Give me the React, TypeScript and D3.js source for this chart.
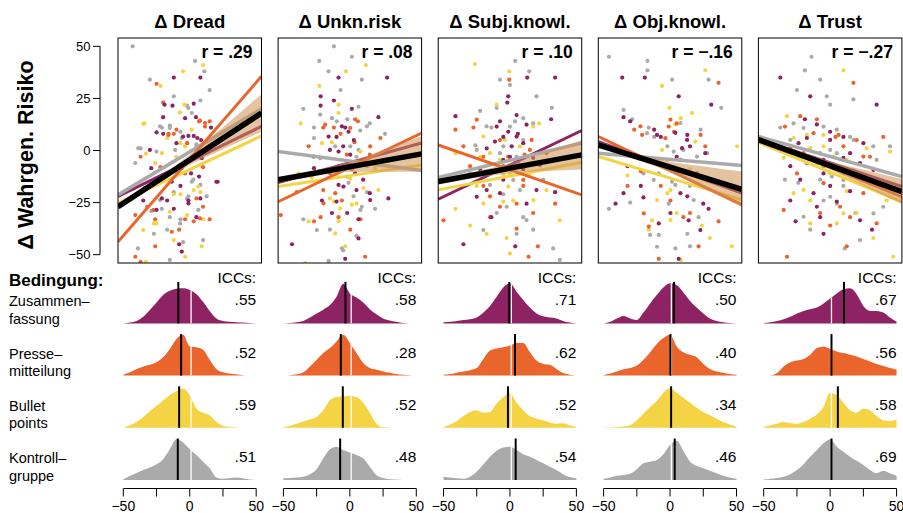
import React from 'react';
import * as d3 from 'd3';

// ---------- DATA ----------
const columnTitles = ['Δ Dread', 'Δ Unkn.risk', 'Δ Subj.knowl.', 'Δ Obj.knowl.', 'Δ Trust'];
const rLabels = ['r = .29', 'r = .08', 'r = .10', 'r = −.16', 'r = −.27'];
const groupLabelLines = [['Zusammen–', 'fassung'], ['Presse–', 'mitteilung'], ['Bullet', 'points'], ['Kontroll–', 'gruppe']];
const groupColors = ['#8e2363', '#e9652c', '#f4d444', '#aaaaaa'];
const yTicks = [50, 25, 0, -25, -50];
const xTicks = [-50, -25, 0, 25, 50];
const xTickLabels = [-50, 0, 50];

// ICCs per column, groups: purple, orange, yellow, grey
const iccDread = ['.55', '.52', '.59', '.51'];
const iccUnkn = ['.58', '.28', '.52', '.48'];
const iccSubj = ['.71', '.62', '.52', '.54'];
const iccObj = ['.50', '.40', '.34', '.46'];
const iccTrust = ['.67', '.56', '.58', '.69'];

// group medians (black lines) and reference (white line)
const medDread = [-8.6, -6.5, -8, -9];
const medUnkn = [-3.3, -6.8, -5.3, -7.3];
const medSubj = [-0.5, 3.8, -1.5, 4.3];
const medObj = [3, 0.3, 0.8, 3.5];
const medTrust = [10.4, 1, 5.8, 1];
const whiteRef = 1;

// density grid
const densX = [-50, -45, -40, -35, -30, -25, -20, -15, -10, -5, 0, 5, 10, 15, 20, 25, 30, 35, 40, 45, 50];
const densDread = [
  [0, 0.02, 0.06, 0.16, 0.32, 0.5, 0.68, 0.78, 0.83, 0.84, 0.8, 0.7, 0.52, 0.3, 0.12, 0.06, 0.04, 0.03, 0.02, 0.01, 0],
  [0.02, 0.08, 0.16, 0.22, 0.26, 0.32, 0.44, 0.64, 0.88, 0.98, 0.7, 0.68, 0.62, 0.38, 0.16, 0.08, 0.05, 0.03, 0.01, 0, 0],
  [0, 0.06, 0.14, 0.26, 0.4, 0.52, 0.66, 0.78, 0.88, 0.94, 0.78, 0.46, 0.36, 0.3, 0.14, 0.05, 0.02, 0.01, 0, 0, 0],
  [0.02, 0.1, 0.17, 0.24, 0.3, 0.38, 0.5, 0.74, 0.98, 0.9, 0.74, 0.6, 0.44, 0.28, 0.06, 0.03, 0.04, 0.06, 0.04, 0.01, 0],
];
const densUnkn = [
  [0, 0.01, 0.03, 0.06, 0.14, 0.24, 0.33, 0.44, 0.64, 0.95, 0.72, 0.62, 0.5, 0.34, 0.22, 0.12, 0.07, 0.04, 0.01, 0, 0],
  [0, 0.01, 0.03, 0.08, 0.22, 0.38, 0.54, 0.66, 0.82, 0.98, 0.78, 0.54, 0.3, 0.18, 0.14, 0.1, 0.07, 0.04, 0.02, 0.01, 0],
  [0.02, 0.05, 0.1, 0.15, 0.2, 0.26, 0.42, 0.66, 0.74, 0.75, 0.76, 0.74, 0.6, 0.36, 0.1, 0.02, 0.01, 0, 0, 0, 0],
  [0.04, 0.05, 0.06, 0.08, 0.14, 0.26, 0.52, 0.74, 0.8, 0.72, 0.66, 0.6, 0.52, 0.32, 0.12, 0.05, 0.02, 0.01, 0, 0, 0],
];
const densSubj = [
  [0.03, 0.04, 0.06, 0.08, 0.1, 0.14, 0.26, 0.42, 0.64, 0.86, 0.96, 0.76, 0.56, 0.38, 0.24, 0.17, 0.14, 0.12, 0.06, 0.02, 0],
  [0.02, 0.04, 0.07, 0.1, 0.13, 0.18, 0.4, 0.6, 0.65, 0.68, 0.72, 0.78, 0.78, 0.56, 0.36, 0.28, 0.26, 0.16, 0.06, 0.02, 0],
  [0.02, 0.08, 0.16, 0.28, 0.38, 0.42, 0.36, 0.38, 0.58, 0.74, 0.83, 0.6, 0.42, 0.28, 0.22, 0.18, 0.13, 0.1, 0.11, 0.06, 0.02],
  [0.08, 0.06, 0.04, 0.03, 0.08, 0.2, 0.38, 0.56, 0.7, 0.78, 0.8, 0.72, 0.62, 0.56, 0.48, 0.4, 0.32, 0.24, 0.14, 0.07, 0.04],
];
const densObj = [
  [0, 0.04, 0.12, 0.18, 0.12, 0.08, 0.26, 0.48, 0.68, 0.86, 0.96, 0.92, 0.74, 0.54, 0.38, 0.24, 0.12, 0.06, 0.03, 0.01, 0],
  [0.01, 0.05, 0.1, 0.15, 0.18, 0.24, 0.38, 0.56, 0.76, 0.9, 0.98, 0.7, 0.56, 0.5, 0.44, 0.28, 0.16, 0.1, 0.07, 0.04, 0.02],
  [0.01, 0.01, 0.02, 0.03, 0.06, 0.18, 0.34, 0.5, 0.64, 0.84, 0.95, 0.84, 0.72, 0.6, 0.48, 0.38, 0.3, 0.22, 0.14, 0.08, 0.03],
  [0.03, 0.06, 0.1, 0.12, 0.15, 0.26, 0.4, 0.44, 0.48, 0.62, 0.84, 0.94, 0.7, 0.44, 0.34, 0.28, 0.22, 0.16, 0.1, 0.06, 0.03],
];
const densTrust = [
  [0.01, 0.03, 0.06, 0.1, 0.16, 0.24, 0.3, 0.34, 0.38, 0.48, 0.6, 0.72, 0.82, 0.84, 0.7, 0.42, 0.3, 0.3, 0.26, 0.14, 0.04],
  [0, 0, 0.06, 0.22, 0.32, 0.36, 0.4, 0.5, 0.66, 0.7, 0.64, 0.58, 0.54, 0.5, 0.46, 0.4, 0.34, 0.28, 0.23, 0.18, 0.14],
  [0.02, 0.06, 0.1, 0.14, 0.11, 0.1, 0.14, 0.22, 0.32, 0.5, 0.84, 0.78, 0.6, 0.42, 0.36, 0.46, 0.42, 0.28, 0.18, 0.16, 0.2],
  [0.01, 0.03, 0.05, 0.08, 0.14, 0.24, 0.38, 0.56, 0.72, 0.88, 0.98, 0.8, 0.68, 0.56, 0.46, 0.36, 0.24, 0.16, 0.22, 0.16, 0.1],
];

// regression line values at x = -54 and x = 54: purple, orange, yellow, grey, overall
const lineEnds = [-54, 54];
const regDread = [[-22, 11.6], [-43.8, 35.6], [-25.3, 7], [-21.3, 20], [-27, 18]];
const regUnkn = [[-15.4, 3.6], [-24.6, 8.4], [-17.3, -6.9], [-0.5, -9.6], [-14.1, -1.6]];
const regSubj = [[-23.4, 9.6], [2.7, -21.3], [-18.9, -5.6], [-13, 3.6], [-14.9, -2.1]];
const regObj = [[4.3, -20.5], [6.7, -26], [-2.9, -23.6], [-1.3, -7.2], [2.7, -18.6]];
const regTrust = [[5.5, -17.3], [6, -22.2], [3.9, -24.6], [6.7, -12.5], [5.2, -19.7]];

// confidence band half widths around the overall line
const bandX = [-54, -27, 0, 27, 54];
const bandDread = [1.5, 1.5, 2.5, 5.5, 9];
const bandUnkn = [1.5, 1.5, 2.5, 5.5, 8.5];
const bandSubj = [1.5, 1.5, 2.5, 4.5, 7];
const bandObj = [1.5, 1.5, 2.5, 5.5, 8.5];
const bandTrust = [1.5, 1.5, 2, 4, 6];

// scatter points [x, y] per group: purple, orange, yellow, grey
const ptsDread = [
  [[-12,35],[8,35],[-19,22],[-13,21.5],[3,22.5],[-20,8],[-3.5,15.5],[-1,7],[-10,3.5],[8.5,5],[16,11],[-29,-8.5],[-13.5,-15],[-7,-17],[1,-11],[7,-12.5],[-17,-24],[-1,-24],[8,-23],[-12,-28],[-25,-28.5],[21,-15],[-21,-23],[5,-32],[-8,-45],[-6,-48.5],[3,7],[5,-2],[-35,-24],
   [-20,16],[4.7,16],[-25,8.7],[-5,6.7],[5.7,6],[-30,0.3],[9,-3.7],[20,-15],[-1,-25.4]],
  [[-25,32],[-20,23],[-16,8],[-12,8],[7,14],[11.5,11.5],[15,14],[-37,-3],[-34,-18],[-22,-8],[-6,-8.5],[10,-8],[-41,-31],[-32,-27],[-26,-33],[-13.5,-39],[-3.5,-33],[-8,-38],[3,-34],[15,-33],[-26,-46],[-41,-51],[-37,-53.5],[5,-23],[10,-27],
   [7.7,14.4],[11.5,13.2],[-10,10],[-16,7.5],[-2,3.5],[-3.6,-11],[-27.4,-28.6],[7.7,-32.6]],
  [[10,41],[-5,38],[-22,31],[-4,22],[-34,13],[-17,6],[-7,3.5],[-33,-1.5],[-26,-6],[-10,-3],[-3.5,2],[8,-7],[-20,-14],[3,-19],[-27,-35],[-12,-21],[-7,-21],[8,-20],[-2,-31],[10,-33],[-12,-43],[9,-46],[-33,-53.5],[-25,-35],[-3.5,-51],
   [-7.3,18.3],[1.4,10],[-35,12.8],[-21,-1.3],[-10,-9.3],[-17.4,-11],[6.4,-17.3],[-15,-29.4],[-35,-38.2]],
  [[-43,50],[-30,34],[4,43],[11,38],[15,29],[-12,26],[-15,12],[-21,11],[-7,9],[-37,1],[-41,-6],[-25,-0.5],[-6,6],[-2,3.5],[5,3],[8,24],[-2,21.5],[1.5,18],[-17,-11],[1.5,-15],[8,-16.5],[-12,-20],[-1,-22],[-21,-28],[-29,-29],[-15,-32],[-7,-33],[6.5,-28.5],[10,-43],[-17,-38],[-27,-40],[-39,-47],[-15,-52.5],[-2,-23],[-5,-44],
   [-1,20.4],[-15,10.8],[-22.4,11.6],[5.2,2],[-11,0.3],[-38.7,1.1],[2.7,-14],[12.7,-22],[-22.4,-23.8],[-7.3,-35]],
];
const ptsUnkn = [
  [[-8.5,35],[28,35],[-22,26],[-12,24],[1.5,20],[-22,21.5],[21.5,16],[-3.5,11],[-1,9],[-10,6.5],[3,5],[-5,2],[-15,0.3],[0.3,-2],[-27,-8.5],[10,-14],[-8.5,-16.5],[5,-19],[-21,-24],[-10,-24.5],[29,-23],[-2,-30],[-13.5,-30],[6.5,-33],[-43.5,-45],[-3.5,-52],[15,-20.5],
   [-6,11.6],[-16,6.7],[-8.5,-0.5],[-27.3,-2.9],[4,-11],[-4.8,-17.3],[15.3,-23.8],[6.5,-42.2]],
  [[4,15],[6,14],[-20,11],[-12,11],[-7,8],[3.5,4],[23,6],[-31,2],[-8.5,-7.5],[1.5,-9],[15,-2],[-20,-19],[-11,-20.5],[-6,-24],[-22,-32],[-8.5,-32],[-27,-34],[8,-33],[0.3,-38],[11.5,-51],[-52,-31],[-40,-20],
   [-18.6,12.4],[0.3,10.8],[-2.3,-2],[15.3,2],[10.3,-6.1],[-14.8,-11],[-19.8,-25.4]],
  [[-3,38],[12,41],[-23,31],[-8.5,22],[-37,13],[-8.5,18],[-13.5,4],[8,-0.5],[23,-6],[-28.5,-13],[-10,-11.5],[0.3,-13.5],[-15,-23],[-12,-24.5],[5,-25.5],[21.5,-19],[-31,-34],[-8.5,-34],[1.5,-26],[-3.5,-46],[-33.5,-54],[-38.5,-11],
   [-21,3.5],[19,-8.5],[10.3,-18],[-7.3,-27.8],[-11,-39.8]],
  [[-12,50],[-23,43],[-16,38],[-7,29],[9,34],[-35,20],[-27,11],[-13.5,15.5],[-2,15],[6.5,21],[15,13],[26.5,8],[-27,6],[-11,2],[5,-3],[13,-7.5],[-2,-12.5],[-1,-15.5],[13,-20],[9,-27],[8,-28.5],[19,-28],[-35,-33],[-15,-38],[5,-41],[-6,-47],[-5,-48],[-16,-53],[1.5,45],[0.3,2],
   [-22.3,17.2],[-9.8,14],[7.8,9.6],[12.8,11.6],[6.5,0.3],[-22.3,-3.7],[2.8,-22],[-24.8,-38.2]],
];
const ptsSubj = [
  [[13,35],[34,35],[-1.3,26],[-41,16.5],[-2,23],[5,17],[-10,11.5],[-1.3,9],[6,8],[10,3.5],[-5,6.5],[1.3,2],[31,15],[-17.5,1],[17.5,-3.5],[0,-3],[-22.5,-9],[10,-9],[-5,-14],[-17.5,-19],[-7.5,-20.5],[20,-19],[12.5,-25.5],[-35,-45],[4,-46],[34,-20],[-14,-32],
   [-7.5,14],[12.5,12.4],[-11.3,4.3],[5,6.7],[-5,-4.5],[22.6,-6.9],[-25,-22.2]],
  [[-0.5,34],[-41,10],[-35,2],[-27.5,11],[-7.5,5],[-1.3,-3],[15,0.3],[-30,-7.5],[-20,-3],[11,-2],[-5,-7.5],[27.5,-1.3],[-20,-17],[-15,-22],[5,-25.5],[17.5,-30],[-50,-33.5],[-15,-32],[5,-37.5],[14,-51],[21,-46],[34,-25.5],[10,-17],
   [-25,14.8],[16.3,5.1],[-10,-10.1],[10,-14.1],[-7.5,-27]],
  [[-26.5,41.5],[-0.5,38],[-10,22],[22,13],[-22.5,-3],[-41,-1.3],[7.5,2],[17.5,11.5],[0,-11],[-5,-11.5],[-25,-17],[-20,-25.5],[-5,-24.5],[2.5,-24],[27.5,-19],[-30,-36],[-17.5,-40],[-2.5,-42],[37.5,-33.5],[-41,-28],[15,-11],[-7.5,-4.5],
   [-20,6.7],[-3.8,5.1],[-15,-1.3],[12.5,-6.9],[-1.3,-17.3],[17.6,-23.8],[0,-49.4]],
  [[4,43],[-7.5,34],[0,31.5],[14.5,38],[20,26],[-22.5,19],[-10,20.5],[10,15.5],[17.5,13],[31.5,20.5],[-14,11],[0,11.5],[-5,2],[10,5],[-26,2.5],[-7.5,-1.3],[5,-3],[-15,-16.5],[-5,-21],[7.5,-19],[25,-14],[-10,-30],[-2.5,-27],[10,-32],[32.5,-47],[37.5,-52.5],[5,-40],[17.5,-38],[-30,-11],
   [-17.6,11.6],[3.8,14],[-25,0.3],[6.3,-6.1],[2.5,-14.1],[12.5,-33.4],[-20,-38.2]],
];
const ptsObj = [
  [[-36,35],[-19,35],[6.5,26],[31,22],[-35,16],[-30,14],[-12,10],[-7,6.5],[4,8.5],[13,7.5],[15,2],[26.5,-1.3],[-32,-7.5],[5,-3],[-22,-17],[-35,-20.5],[-41,-25.5],[-20,-22.5],[13,-22],[29,-28],[0.3,-30],[14,-33.5],[25,-25.5],[6.5,-52],[-8.5,-35],
   [-9.8,7.5],[12.8,5.1],[9,1.1],[-14.8,-4.5],[7.8,-20.5],[22.8,-38.2]],
  [[36.5,32.5],[5,13],[-27,10],[-21,7.5],[-1,11.5],[3,9],[23,7.5],[26.5,2],[-22,-10],[8,-4.5],[-7,-17],[10,-32],[15,-30],[21.5,-46],[-8.5,-52],[36.5,-34],[0.3,-24],[-32,-17],[-16,-36.5],
   [-22.3,11.6],[-3.5,5.9],[0.3,14.8],[-2.3,-7.7],[20.3,-10.9],[-19.8,-30.2]],
  [[26.5,38.5],[-6,31],[-0.5,20.5],[16.5,18],[8,15.5],[4,12.5],[-32,-12],[-2,-4.5],[11.5,-11],[15,-9],[25,-12.5],[0.3,-19],[5,-30],[-13.5,-33.5],[-16,-38],[24,-36],[30,-42],[46.5,-46],[50.5,2],[-2,-20.5],[8,-52.5],
   [19,4.3],[-6,0.3],[-9.8,-23.8],[0.3,-33.4]],
  [[-46,45],[-17,43],[-17,38.5],[1.5,34],[29,34],[-35,19.5],[-28.5,15],[-16,11],[-12,6.5],[-2,2],[10,0.3],[23,10],[28,-1.3],[38.5,20.5],[-20,-11],[-8.5,-11],[1.5,-15],[4,-16.5],[15,-17],[-30,-25],[-46,-28],[-15,-40.5],[-8.5,-40.5],[4,-47],[15,-46],[21.5,-32],[13,-40],[-1,-25.5],
   [-17.3,8.3],[7.8,13.2],[2.8,-0.5],[20.3,-2.9],[-26,-2],[5.3,-9.3],[-12.3,-14.1],[17.8,-23.8],[-9.8,-46.2]],
];
const ptsTrust = [
  [[-37.5,35],[-15,26],[35,22],[-19,15],[-10,12.5],[0,9],[10,6.5],[-17.5,6],[25,3.5],[-30,-7.5],[-5,-4.5],[10,-3.5],[22.5,-6],[-5,-11],[-22.5,-14],[-12.5,-20.5],[0,-17],[15,-19.5],[-30,-24],[-7.5,-32],[22.5,-33.5],[31.5,-38],[-5,-40],[-26,-34],[5,-24.5],
   [0,5.1],[-23.8,3.5],[15,-1.3],[32.6,-9.3],[-10,-27]],
  [[17.5,32.5],[-22.5,16.5],[-10,15],[-34,11.5],[4,6.5],[20,5],[40,6.5],[-20,-1.3],[-30,1],[10,2],[30,-3],[-25,-11],[-5,-7.5],[-35,-28.5],[-7.5,-30],[7.5,-27],[15,-32],[35,-35],[-32.5,-51],[12.5,-46],[0,-36],
   [-12.5,8.3],[6.3,7.5],[25,-2.9],[-17.6,-6.1],[-5,-15.7],[25,-20.5]],
  [[10,38.5],[-32.5,16.5],[-17.5,7.5],[-27.5,6],[-5,2],[-35,-3.5],[12.5,-4.5],[27.5,1],[-10,-7],[0,-11],[-27.5,-20.5],[10,-11],[-15,-24],[5,-35],[20,-30],[-15,-35],[32.5,-42],[47.5,-51],[42.5,-24],[12.5,-19.5],[45,-0.5],
   [-5,7.5],[-15,1.1],[2.5,-2.9],[17.6,-9.3],[-20,-18.9],[10,-30.2]],
  [[-14,45],[-19,38.5],[-25,29],[-7.5,34],[-2.5,26],[0,22],[17.5,24.5],[-37.5,11],[-27.5,13],[-5,11.5],[5,10],[15,6.5],[32.5,2],[45,2],[0,0.3],[5,-1.3],[35,-4.5],[-24,-15.5],[-7.5,-14],[1.3,-12.5],[10,-17],[-5,-24],[5,-25.5],[19,-30],[40,-27],[-15,-38],[22.5,-43],[11,-47],[-34,-14],
   [-20,10.8],[17.6,5.1],[-30,5.1],[-7.5,-1.3],[5,-7.7],[10,-14.1],[0,-22.2],[32.6,-30.2],[-20,-31.8]],
];

const panelsData = [
  { title: columnTitles[0], r: rLabels[0], pts: ptsDread, reg: regDread, band: bandDread, dens: densDread, med: medDread, icc: iccDread },
  { title: columnTitles[1], r: rLabels[1], pts: ptsUnkn, reg: regUnkn, band: bandUnkn, dens: densUnkn, med: medUnkn, icc: iccUnkn },
  { title: columnTitles[2], r: rLabels[2], pts: ptsSubj, reg: regSubj, band: bandSubj, dens: densSubj, med: medSubj, icc: iccSubj },
  { title: columnTitles[3], r: rLabels[3], pts: ptsObj, reg: regObj, band: bandObj, dens: densObj, med: medObj, icc: iccObj },
  { title: columnTitles[4], r: rLabels[4], pts: ptsTrust, reg: regTrust, band: bandTrust, dens: densTrust, med: medTrust, icc: iccTrust },
];

// ---------- LAYOUT ----------
const W = 903, H = 513;
const FONT = '"Liberation Sans", Arial, Helvetica, sans-serif';
const panelLeft0 = 118, panelStride = 160.1, panelW = 143.5;
const panelTop = 38, panelBottom = 263;
const densBase0 = 323.4, densStride = 52.2, densUnit = 41.7;
const axisY = 488.5;
const pointOrder = [3, 2, 1, 0];
const lineOrder = [0, 2, 3, 1];

export default function App() {
  const yS = d3.scaleLinear().domain([-54, 54]).range([panelBottom, panelTop]);
  return (
    <svg width={W} height={H} style={{ position: 'absolute', left: 0, top: 0, background: '#fff' }} fontFamily={FONT}>
      <rect x={0} y={0} width={W} height={H} fill="#fff" />
      {/* y axis */}
      <line x1={100} x2={100} y1={yS(50)} y2={yS(-50)} stroke="#000" strokeWidth={1} />
      {yTicks.map((t) => (
        <g key={t}>
          <line x1={93} x2={100} y1={yS(t)} y2={yS(t)} stroke="#000" strokeWidth={1} />
          <text x={90.5} y={yS(t)} dy="0.35em" textAnchor="end" fontSize={13}>{t < 0 ? '−' + Math.abs(t) : t}</text>
        </g>
      ))}
      <text transform={`translate(33,155) rotate(-90)`} textAnchor="middle" fontSize={21.5} fontWeight="bold">Δ Wahrgen. Risiko</text>
      <text x={9} y={285.5} fontSize={17} fontWeight="bold">Bedingung:</text>
      {groupLabelLines.map((ls, g) => {
        const base = densBase0 + g * densStride;
        return (
          <g key={g}>
            <text x={9} y={base - 17} fontSize={14.5}>{ls[0]}</text>
            <text x={9} y={base + 0.5} fontSize={14.5}>{ls[1]}</text>
          </g>
        );
      })}
      {panelsData.map((p, i) => {
        const L = panelLeft0 + i * panelStride;
        const x = d3.scaleLinear().domain([-54, 54]).range([L, L + panelW]);
        const all = p.reg[4];
        const lineAt = (v: number) => all[0] + (all[1] - all[0]) * (v - lineEnds[0]) / (lineEnds[1] - lineEnds[0]);
        const bandArea = d3.area<number>()
          .x((v) => x(v))
          .y0((v, k) => yS(lineAt(v) - p.band[k]))
          .y1((v, k) => yS(lineAt(v) + p.band[k]))
          .curve(d3.curveMonotoneX);
        const clipId = `pc${i}`;
        return (
          <g key={i}>
            <defs>
              <clipPath id={clipId}>
                <rect x={L} y={panelTop} width={panelW} height={panelBottom - panelTop} />
              </clipPath>
            </defs>
            <text x={x(0)} y={27.5} textAnchor="middle" fontSize={18.5} fontWeight="bold">{p.title}</text>
            <g clipPath={`url(#${clipId})`}>
              {pointOrder.map((g) => p.pts[g].map((d, k) => (
                <circle key={`${g}-${k}`} cx={x(d[0])} cy={yS(d[1])} r={2.1} fill={groupColors[g]} />
              )))}
              {lineOrder.map((g) => (
                <line key={g} x1={x(lineEnds[0])} x2={x(lineEnds[1])} y1={yS(p.reg[g][0])} y2={yS(p.reg[g][1])}
                  stroke={groupColors[g]} strokeWidth={g === 3 ? 3.5 : 3} />
              ))}
              <path d={bandArea(bandX) || ''} fill="#cf8f52" fillOpacity={0.55} />
              <line x1={x(lineEnds[0])} x2={x(lineEnds[1])} y1={yS(all[0])} y2={yS(all[1])} stroke="#000" strokeWidth={5.5} />
            </g>
            <rect x={L} y={panelTop} width={panelW} height={panelBottom - panelTop} fill="none" stroke="#000" strokeWidth={1} />
            <text x={L + panelW - 9} y={57.5} textAnchor="end" fontSize={17.5} fontWeight="bold">{p.r}</text>

            {/* densities */}
            <text x={x(50)} y={282.7} textAnchor="end" fontSize={15.5}>ICCs:</text>
            {p.dens.map((dv, g) => {
              const base = densBase0 + g * densStride;
              const yd = d3.scaleLinear().domain([0, 1]).range([base, base - densUnit]);
              const area = d3.area<number>()
                .x((v) => x(v))
                .y0(base)
                .y1((v, k) => yd(dv[k]))
                .curve(d3.curveMonotoneX);
              const pathD = area(densX) || '';
              const dId = `dc${i}-${g}`;
              return (
                <g key={g}>
                  <defs>
                    <clipPath id={dId}><path d={pathD} /></clipPath>
                  </defs>
                  <path d={pathD} fill={groupColors[g]} />
                  <line x1={x(whiteRef)} x2={x(whiteRef)} y1={base} y2={base - densUnit} stroke="#fff" strokeWidth={1.3} clipPath={`url(#${dId})`} />
                  <line x1={x(p.med[g])} x2={x(p.med[g])} y1={base} y2={base - 41.5} stroke="#000" strokeWidth={2} />
                  <text x={x(50)} y={base - 18} textAnchor="end" fontSize={15.5}>{p.icc[g]}</text>
                </g>
              );
            })}
            {/* x axis */}
            <line x1={x(-50)} x2={x(50)} y1={axisY} y2={axisY} stroke="#000" strokeWidth={1} />
            {xTicks.map((t) => (
              <line key={t} x1={x(t)} x2={x(t)} y1={axisY} y2={axisY + 8} stroke="#000" strokeWidth={1} />
            ))}
            {xTickLabels.map((t) => (
              <text key={t} x={x(t)} y={511} textAnchor="middle" fontSize={14}>{t < 0 ? '−' + Math.abs(t) : t}</text>
            ))}
          </g>
        );
      })}
    </svg>
  );
}
